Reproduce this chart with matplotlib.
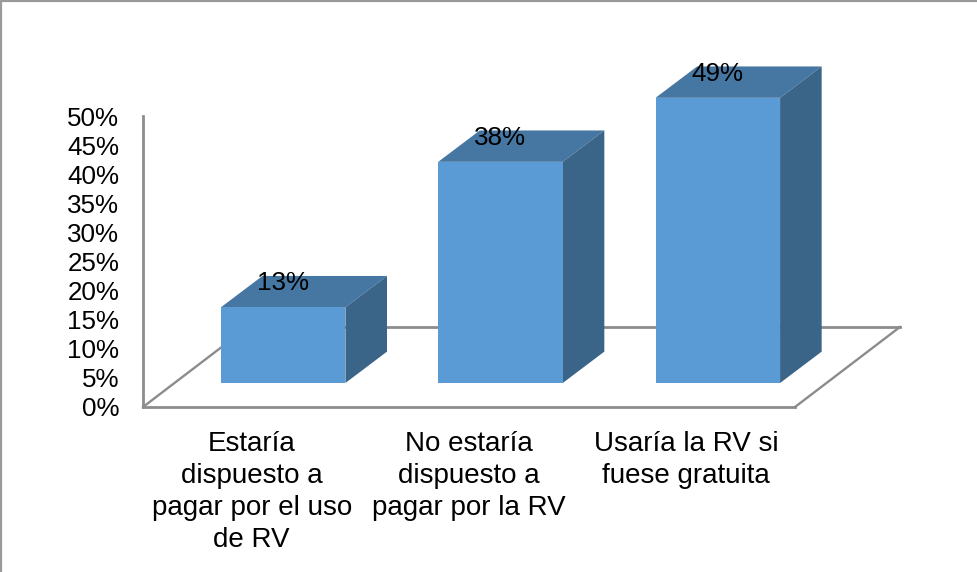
import matplotlib
matplotlib.use("Agg")
import matplotlib.pyplot as plt
from matplotlib.lines import Line2D
from matplotlib.patches import Polygon

plt.rcParams["font.family"] = ["Liberation Sans", "DejaVu Sans"]

# ── Data ─────────────────────────────────────
categories = ["Estaría\ndispuesto a\npagar por el uso\nde RV",
              "No estaría\ndispuesto a\npagar por la RV",
              "Usaría la RV si\nfuese gratuita"]
values = [13, 38, 49]
yticks = list(range(0, 55, 5))

# ── Oblique look ─────────────────────────────
FLOOR_DX = 0.483     # floor depth, in category units
FLOOR_DY = 13.75     # floor depth, in % units
BAR_W = 0.573
BAR_START = 0.30     # where bars start / end along the floor depth
BAR_END = 0.70

FRONT = "#5b9bd5"
TOP = "#4676a2"
SIDE = "#3a6488"
GRID = "#8c8c8c"
TEXT = "#000000"

W, H = 978, 572
fig = plt.figure(figsize=(W / 100, H / 100), dpi=100)
ax = fig.add_axes([143 / W, 1 - 407 / H, (795 - 143) / W, (407 - 116) / H])
ax.set_xlim(-0.5, 2.5)
ax.set_ylim(0, 50)
ax.patch.set_visible(False)

for s in ["top", "right"]:
    ax.spines[s].set_visible(False)
for s in ["left", "bottom"]:
    ax.spines[s].set_color(GRID)
    ax.spines[s].set_linewidth(2)

# floor
ax.plot([-0.5, -0.5 + FLOOR_DX], [0, FLOOR_DY], color=GRID, lw=1.7, clip_on=False, zorder=1)
ax.plot([2.5, 2.5 + FLOOR_DX], [0, FLOOR_DY], color=GRID, lw=1.7, clip_on=False, zorder=1)
ax.plot([-0.5 + FLOOR_DX, 2.5 + FLOOR_DX], [FLOOR_DY, FLOOR_DY], color=GRID, lw=2, clip_on=False, zorder=1)

# bars
for i, v in enumerate(values):
    x0 = i - BAR_W / 2 + BAR_START * FLOOR_DX
    x1 = x0 + BAR_W
    y0 = BAR_START * FLOOR_DY
    ddx = (BAR_END - BAR_START) * FLOOR_DX * 0.99
    ddy = (BAR_END - BAR_START) * FLOOR_DY * 0.98
    y1 = y0 + v
    ax.add_patch(Polygon([(x0, y1), (x1, y1), (x1 + ddx, y1 + ddy), (x0 + ddx, y1 + ddy)],
                         fc=TOP, ec="none", clip_on=False, zorder=3))
    ax.add_patch(Polygon([(x1, y0), (x1 + ddx, y0 + ddy), (x1 + ddx, y1 + ddy), (x1, y1)],
                         fc=SIDE, ec="none", clip_on=False, zorder=3))
    ax.add_patch(Polygon([(x0, y0), (x1, y0), (x1, y1), (x0, y1)],
                         fc=FRONT, ec="none", clip_on=False, zorder=4))
    ax.text(x0 + BAR_W / 2 - 0.003, y1 + 4.1, f"{v}%", ha="center", va="center",
            fontsize=18.7, color=TEXT, zorder=5, clip_on=False)

ax.set_xticks(range(3))
ax.set_xticklabels(categories, fontsize=20, color=TEXT, linespacing=1.31)
ax.set_yticks(yticks)
ax.set_yticklabels([f"{t}%" for t in yticks], fontsize=18.7, color=TEXT)
ax.tick_params(axis="both", length=0)
ax.tick_params(axis="y", pad=17)
ax.tick_params(axis="x", pad=17)

# outer chart border, only top and left show
fig.add_artist(Line2D([1.5 / W, 1.5 / W], [0, 1], color="#9a9a9a", lw=1.6))
fig.add_artist(Line2D([0, 1], [1 - 0.5 / H, 1 - 0.5 / H], color="#9a9a9a", lw=1.6))

plt.savefig("out.png", dpi=100)
